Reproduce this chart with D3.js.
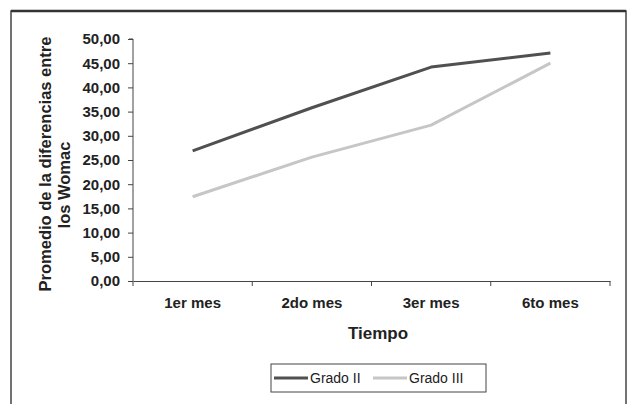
<!DOCTYPE html>
<html>
<head>
<meta charset="utf-8">
<script src="https://cdn.jsdelivr.net/npm/d3@7"></script>
<style>
  body { margin: 0; background: #fff; }
  svg { display: block; }
  text { font-family: "Liberation Sans", Arial, sans-serif; fill: #222; }
</style>
</head>
<body>
<svg id="chart" width="628" height="404"></svg>
<script>
const categories = ["1er mes", "2do mes", "3er mes", "6to mes"];
const gradoII = [26.9, 35.8, 44.2, 47.1];
const gradoIII = [17.4, 25.6, 32.2, 45.0];
const yTicks = [0, 5, 10, 15, 20, 25, 30, 35, 40, 45, 50];
const seriesNames = ["Grado II", "Grado III"];
const seriesColors = ["#505050", "#c6c6c6"];

const svg = d3.select("#chart");
const plot = { left: 133, right: 610, top: 39, bottom: 281 };

// outer frame
svg.append("rect").attr("x", 11).attr("y", 11).attr("width", 615).attr("height", 400)
  .attr("fill", "none").attr("stroke", "#444").attr("stroke-width", 1.5);
svg.append("line").attr("x1", 11).attr("x2", 626).attr("y1", 11).attr("y2", 11)
  .attr("stroke", "#333").attr("stroke-width", 2.5);

const x = d3.scaleBand().domain(categories).range([plot.left, plot.right]);
const y = d3.scaleLinear().domain([0, 50]).range([plot.bottom, plot.top]);

const fmt = d => d3.format(".2f")(d).replace(".", ",");

// y axis
const yAxis = svg.append("g").attr("transform", `translate(${plot.left},0)`)
  .call(d3.axisLeft(y).tickValues(yTicks).tickFormat(fmt).tickSize(5).tickPadding(8));
yAxis.select(".domain").attr("stroke", "#444").attr("d", `M-4,${plot.top}H0V${plot.bottom}`);
yAxis.selectAll(".tick line").attr("stroke", "#444");
yAxis.selectAll(".tick text").attr("font-size", 15).attr("font-weight", "bold")
  .attr("font-family", "Liberation Sans, Arial, sans-serif").attr("fill", "#333");

// x axis
const xAxis = svg.append("g").attr("transform", `translate(0,${plot.bottom})`)
  .call(d3.axisBottom(x).tickSize(0).tickPadding(16));
xAxis.select(".domain").attr("stroke", "#444");
xAxis.selectAll(".tick text").attr("font-size", 15).attr("font-weight", "bold")
  .attr("font-family", "Liberation Sans, Arial, sans-serif").attr("fill", "#333");
// category separator ticks
const bounds = categories.map(c => x(c)).concat([plot.right]);
xAxis.selectAll(".sep").data(bounds).enter().append("line")
  .attr("x1", d => d).attr("x2", d => d).attr("y1", 0).attr("y2", 5).attr("stroke", "#444");

// lines
const line = d3.line().x((d, i) => x(categories[i]) + x.bandwidth() / 2).y(d => y(d));
[gradoII, gradoIII].forEach((s, i) => {
  svg.append("path").datum(s).attr("d", line).attr("fill", "none")
    .attr("stroke", seriesColors[i]).attr("stroke-width", 3).attr("stroke-linejoin", "round");
});

// axis titles
svg.append("text").attr("x", 378).attr("y", 339).attr("text-anchor", "middle")
  .attr("font-size", 17).attr("font-weight", "bold").text("Tiempo");
svg.append("text").attr("transform", "translate(51,164) rotate(-90)").attr("text-anchor", "middle")
  .attr("font-size", 16.5).attr("font-weight", "bold").text("Promedio de la diferencias entre");
svg.append("text").attr("transform", "translate(70,185) rotate(-90)").attr("text-anchor", "middle")
  .attr("font-size", 16.5).attr("font-weight", "bold").text("los Womac");

// legend
const lg = svg.append("g");
lg.append("rect").attr("x", 271).attr("y", 364).attr("width", 215).attr("height", 28)
  .attr("fill", "#fff").attr("stroke", "#444").attr("stroke-width", 1);
const lx = [274, 373];
seriesNames.forEach((n, i) => {
  lg.append("line").attr("x1", lx[i]).attr("x2", lx[i] + 34).attr("y1", 378).attr("y2", 378)
    .attr("stroke", seriesColors[i]).attr("stroke-width", 3);
  lg.append("text").attr("x", lx[i] + 36).attr("y", 383).attr("font-size", 14).text(n);
});
</script>
</body>
</html>
